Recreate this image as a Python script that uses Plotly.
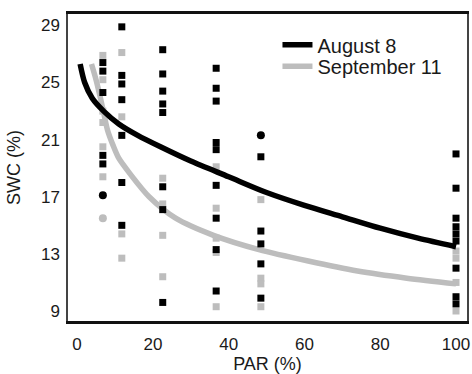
import plotly.graph_objects as go

# PAR columns where the soil samples were taken
par_cols = [6.8, 11.8, 22.6, 36.7, 48.5, 100]

# SWC readings, August 8 (black squares), one list per PAR column
aug_swc = [
    [26.4, 25.8, 24.3, 19.9, 19.3],
    [28.9, 25.5, 24.9, 23.8, 21.3, 18.0, 15.0],
    [27.3, 25.6, 24.4, 23.5, 22.9, 17.7, 16.1, 9.6],
    [26.0, 24.6, 23.7, 20.8, 20.3, 17.8, 15.5, 13.3, 10.4],
    [19.8, 14.6, 13.7, 12.3, 9.9],
    [20.0, 17.6, 15.5, 14.9, 14.4, 13.9, 12.0, 10.0, 9.5],
]
# SWC readings, September 11 (grey squares)
sep_swc = [
    [26.9, 25.2, 23.0, 22.2, 20.5, 18.4],
    [27.1, 22.6, 14.4, 12.7],
    [18.3, 16.5, 14.3, 11.4],
    [19.1, 16.2, 14.1, 13.1, 9.3],
    [16.8, 11.3, 10.9, 9.3],
    [13.2, 12.7, 11.0, 9.0],
]
# a few points drawn as dots in the original
aug_dot_par = [6.8, 48.5]
aug_dot_swc = [17.1, 21.3]
sep_dot_par = [6.8]
sep_dot_swc = [15.5]

# fitted curves
aug_fit_par = [0.8, 2, 4, 7, 11, 16, 22, 30, 40, 50, 60, 70, 80, 90, 100]
aug_fit_swc = [26.3, 25.0, 23.9, 23.0, 22.1, 21.3, 20.5, 19.5, 18.4, 17.3, 16.4, 15.6, 14.8, 14.1, 13.5]
sep_fit_par = [3.8, 5, 6, 7, 8, 9.5, 11, 14, 19, 26, 36, 48, 61, 74, 87, 100]
sep_fit_swc = [26.3, 25.2, 24.1, 22.9, 21.7, 20.6, 19.7, 18.6, 17.0, 15.5, 14.3, 13.3, 12.5, 11.8, 11.3, 10.9]

x_ticks = [0, 20, 40, 60, 80, 100]
y_ticks = [9, 13, 17, 21, 25, 29]

BLACK = "#000000"
GREY = "#bdbdbd"
FONT = "Liberation Sans, Arial, sans-serif"


def flatten(cols, vals):
    xs, ys = [], []
    for x, col in zip(cols, vals):
        for v in col:
            xs.append(x)
            ys.append(v)
    return xs, ys


sep_x, sep_y = flatten(par_cols, sep_swc)
aug_x, aug_y = flatten(par_cols, aug_swc)

fig = go.Figure()

fig.add_trace(go.Scatter(x=sep_x, y=sep_y, mode="markers", showlegend=False,
                         marker=dict(symbol="square", size=7, color=GREY)))
fig.add_trace(go.Scatter(x=sep_dot_par, y=sep_dot_swc, mode="markers", showlegend=False,
                         marker=dict(symbol="circle", size=8, color=GREY)))
fig.add_trace(go.Scatter(x=sep_fit_par, y=sep_fit_swc, mode="lines", name="September 11",
                         legend="legend2",
                         line=dict(color=GREY, width=5.5, shape="spline", smoothing=0.8)))
fig.add_trace(go.Scatter(x=aug_x, y=aug_y, mode="markers", showlegend=False,
                         marker=dict(symbol="square", size=7, color=BLACK)))
fig.add_trace(go.Scatter(x=aug_dot_par, y=aug_dot_swc, mode="markers", showlegend=False,
                         marker=dict(symbol="circle", size=8, color=BLACK)))
fig.add_trace(go.Scatter(x=aug_fit_par, y=aug_fit_swc, mode="lines", name="August 8",
                         legend="legend",
                         line=dict(color=BLACK, width=5.5, shape="spline", smoothing=0.8)))

legend_style = dict(xanchor="left", yanchor="middle", bgcolor="rgba(0,0,0,0)",
                    font=dict(size=20), itemwidth=30)

fig.update_layout(
    width=472, height=374,
    margin=dict(l=68, r=3, t=14, b=51),
    paper_bgcolor="white", plot_bgcolor="white",
    font=dict(family=FONT, size=17, color="#1a1a1a"),
    legend=dict(x=0.525, y=0.9, **legend_style),
    legend2=dict(x=0.525, y=0.83, **legend_style),
)
fig.update_xaxes(
    range=[-2.4, 102.9], tickvals=x_ticks, showgrid=False, zeroline=False,
    showline=True, linecolor="#111", linewidth=2.5, mirror=True,
    ticks="", ticklabelstandoff=6,
    title=dict(text="PAR (%)", font=dict(size=18), standoff=4),
)
fig.update_yaxes(
    range=[8.3, 29.8], tickvals=y_ticks, showgrid=False, zeroline=False,
    showline=True, linecolor="#444", linewidth=1.5, mirror=True,
    ticks="", ticklabelstandoff=3,
    title=dict(text="SWC (%)", font=dict(size=18), standoff=16),
)

# drop the default page margin so the figure sits at the window corner
fig.write_html("out.html", config={"displayModeBar": False},
               post_script="document.body.style.margin='0';")
